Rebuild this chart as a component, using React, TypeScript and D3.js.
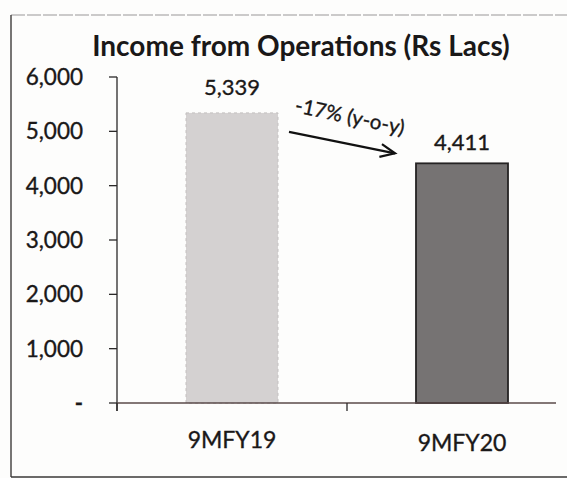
import React from "react";
import * as d3 from "d3";

const categories = ["9MFY19", "9MFY20"];
const values = [5339, 4411];
const valueLabels = ["5,339", "4,411"];
const yTicks = [0, 1000, 2000, 3000, 4000, 5000, 6000];
const yTickLabels = ["-", "1,000", "2,000", "3,000", "4,000", "5,000", "6,000"];
const title = "Income from Operations (Rs Lacs)";
const annotation = "-17% (y-o-y)";
const barFills = ["#d4d1d1", "#767373"];
const barStrokes = ["#c4c0c0", "#252323"];

const W = 567;
const H = 478;
const FONT = "Lato, 'Open Sans', sans-serif";
const INK = "#1a1818";

export default function App() {
  const y = d3.scaleLinear().domain([0, 6000]).range([403, 77]);
  const x = d3
    .scaleBand<string>()
    .domain(categories)
    .range([117, 577])
    .paddingInner(0.6)
    .paddingOuter(0.3);
  const step = x.step();
  const axisX = 117;
  const baseY = y(0);
  const boundaries = [axisX, axisX + step];

  const c0 = (x(categories[0]) ?? 0) + x.bandwidth() / 2;
  const c1 = (x(categories[1]) ?? 0) + x.bandwidth() / 2;
  const arrowStart: [number, number] = [c0 + 57, y(values[0]) + 19];
  const arrowEnd: [number, number] = [c1 - 67, y(values[1]) - 10];
  const ang = Math.atan2(arrowEnd[1] - arrowStart[1], arrowEnd[0] - arrowStart[0]);
  const head = 16;
  const spread = 0.42;
  const h1: [number, number] = [
    arrowEnd[0] - head * Math.cos(ang - spread),
    arrowEnd[1] - head * Math.sin(ang - spread),
  ];
  const h2: [number, number] = [
    arrowEnd[0] - head * Math.cos(ang + spread),
    arrowEnd[1] - head * Math.sin(ang + spread),
  ];
  const line = d3.line();
  const textStroke = { stroke: INK, strokeWidth: 0.35 };

  return (
    <svg
      width={W}
      height={H}
      style={{ position: "absolute", left: 0, top: 0, background: "#fdfdfc" }}
      fontFamily={FONT}
    >
      {/* scanned frame */}
      <line x1={11} y1={15} x2={W} y2={15} stroke="#9a9898" strokeWidth={1.2} strokeDasharray="14 2" />
      <line x1={11} y1={15} x2={11} y2={477} stroke="#4a4747" strokeWidth={1.5} />
      <line x1={11} y1={477} x2={W} y2={477} stroke="#3a3838" strokeWidth={1.5} />

      {/* title */}
      <text x={301} y={56} textAnchor="middle" fontSize={28} fontWeight={700} fill={INK}>
        {title}
      </text>

      {/* bars */}
      {categories.map((c, i) => (
        <rect
          key={c}
          x={x(c)}
          y={y(values[i])}
          width={x.bandwidth()}
          height={baseY - y(values[i])}
          fill={barFills[i]}
          stroke={barStrokes[i]}
          strokeWidth={i === 1 ? 1.8 : 1}
          strokeDasharray={i === 0 ? "3 3" : undefined}
        />
      ))}

      {/* y axis */}
      <line x1={axisX} y1={y(6000)} x2={axisX} y2={baseY + 8} stroke="#2b2929" strokeWidth={1.3} />
      {yTicks.map((t, i) => (
        <g key={t}>
          <line x1={axisX - 8} y1={y(t)} x2={axisX} y2={y(t)} stroke="#2b2929" strokeWidth={1.3} />
          <text
            x={83}
            y={y(t)}
            dy="0.35em"
            textAnchor="end"
            fontSize={t === 0 ? 22 : 22.5}
            fontWeight={t === 0 ? 700 : 400}
            fill={INK}
            {...textStroke}
          >
            {yTickLabels[i]}
          </text>
        </g>
      ))}

      {/* x axis */}
      <line x1={axisX} y1={baseY} x2={556} y2={baseY} stroke="#5a4a4a" strokeWidth={1.3} />
      {boundaries.map((b) => (
        <line key={b} x1={b} y1={baseY} x2={b} y2={baseY + 8} stroke="#2b2929" strokeWidth={1.3} />
      ))}
      {categories.map((c, i) => (
        <text
          key={c}
          x={(x(c) ?? 0) + x.bandwidth() / 2}
          y={448 + i * 3}
          textAnchor="middle"
          fontSize={23}
          fill={INK}
          {...textStroke}
        >
          {c}
        </text>
      ))}

      {/* value labels */}
      {categories.map((c, i) => (
        <text
          key={c}
          x={(x(c) ?? 0) + x.bandwidth() / 2}
          y={y(values[i]) - (i === 0 ? 18 : 13)}
          textAnchor="middle"
          fontSize={22}
          fill={INK}
          {...textStroke}
        >
          {valueLabels[i]}
        </text>
      ))}

      {/* annotation arrow */}
      <path d={line([arrowStart, arrowEnd]) ?? ""} stroke="#111" strokeWidth={2.2} fill="none" />
      <path d={line([h1, arrowEnd, h2]) ?? ""} stroke="#111" strokeWidth={2.2} fill="none" />
      <text
        transform={`translate(${arrowStart[0] + 5},${arrowStart[1] - 20}) rotate(12)`}
        fontSize={20.5}
        fill={INK}
        {...textStroke}
      >
        {annotation}
      </text>
    </svg>
  );
}
